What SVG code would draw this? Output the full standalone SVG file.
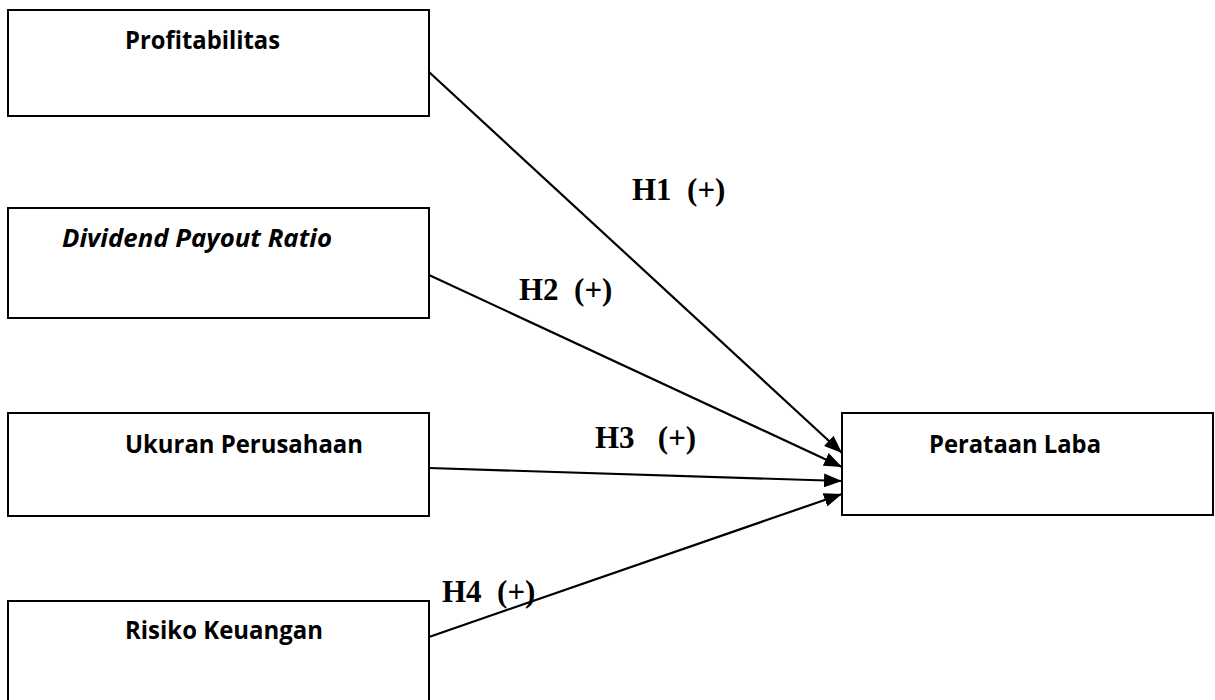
<svg xmlns="http://www.w3.org/2000/svg" width="1215" height="700" viewBox="0 0 1215 700">
<style>
.box{fill:#fff;stroke:#000;stroke-width:2}
.nt{font-family:"Open Sans","Noto Sans","Liberation Sans",sans-serif;font-weight:bold;font-size:25px;fill:#000}
.it{font-style:italic}
.lb{font-family:"Liberation Serif","Times New Roman",serif;font-weight:bold;font-size:31px;fill:#000;white-space:pre}
.cn{stroke:#000;stroke-width:2.2;fill:none;marker-end:url(#ah)}
</style>
<defs>
<marker id="ah" viewBox="0 0 18 14" refX="18" refY="7" markerWidth="18" markerHeight="14" markerUnits="userSpaceOnUse" orient="auto">
<path d="M0,0 L18,7 L0,14 Z" fill="#000"/>
</marker>
</defs>
<rect width="1215" height="700" fill="#fff"/>
<g id="n1"><rect class="box" x="8" y="10" width="421" height="106"/><text class="nt" x="125" y="49" textLength="155" lengthAdjust="spacingAndGlyphs">Profitabilitas</text></g>
<g id="n2"><rect class="box" x="8" y="208" width="421" height="110"/><text class="nt it" x="62" y="247" textLength="270" lengthAdjust="spacingAndGlyphs">Dividend Payout Ratio</text></g>
<g id="n3"><rect class="box" x="8" y="413" width="421" height="103"/><text class="nt" x="125" y="453" textLength="238" lengthAdjust="spacingAndGlyphs">Ukuran Perusahaan</text></g>
<g id="n4"><rect class="box" x="8" y="601" width="421" height="110"/><text class="nt" x="125" y="639" textLength="198" lengthAdjust="spacingAndGlyphs">Risiko Keuangan</text></g>
<g id="n5"><rect class="box" x="842" y="413" width="371" height="102"/><text class="nt" x="929" y="453" textLength="172" lengthAdjust="spacingAndGlyphs">Perataan Laba</text></g>
<g id="connectors">
<line class="cn" x1="429" y1="72" x2="842" y2="453"/>
<line class="cn" x1="429" y1="275" x2="842" y2="467"/>
<line class="cn" x1="429" y1="468" x2="842" y2="481"/>
<line class="cn" x1="429" y1="637" x2="842" y2="494"/>
</g>
<g id="labels">
<text class="lb" x="632" y="200">H1  (+)</text>
<text class="lb" x="519" y="300">H2  (+)</text>
<text class="lb" x="595" y="448">H3   (+)</text>
<text class="lb" x="442" y="602">H4  (+)</text>
</g>
</svg>
